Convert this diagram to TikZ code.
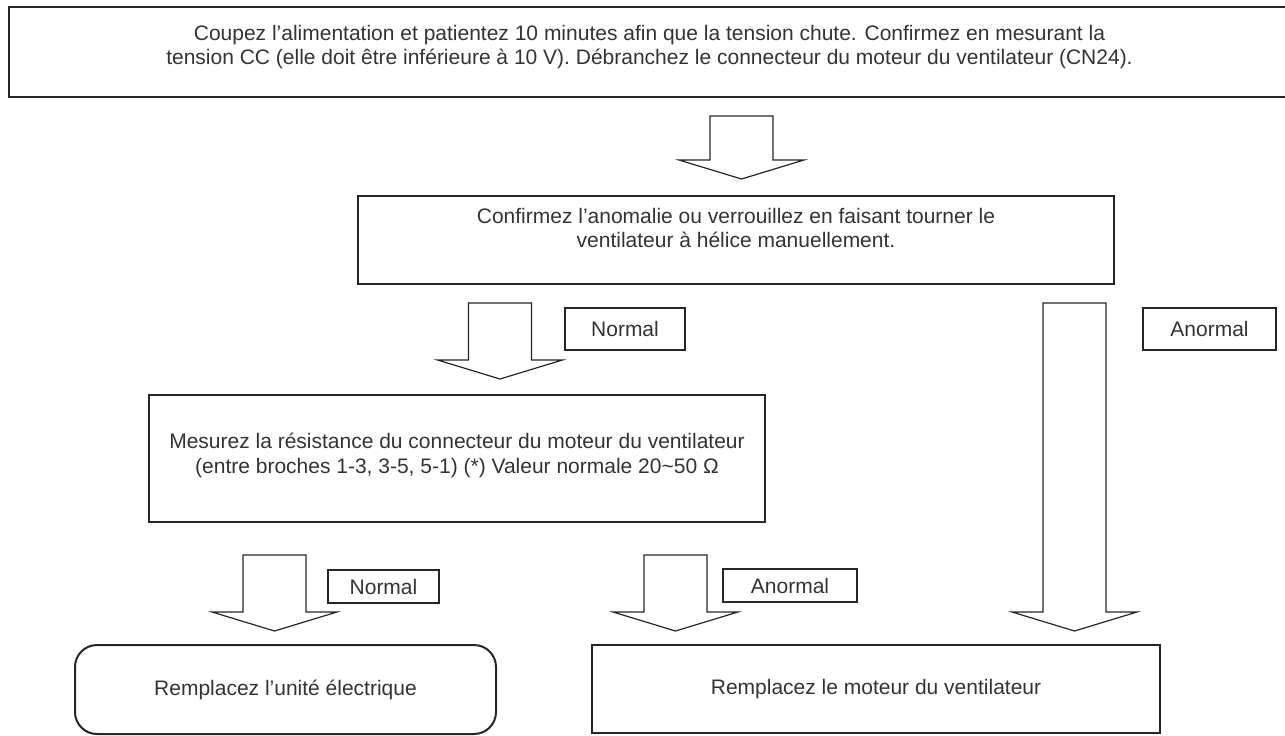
\documentclass[tikz,border=0pt]{standalone}
\usepackage{fontspec}
\setmainfont{Liberation Sans}
\usetikzlibrary{positioning}

\begin{document}
\begin{tikzpicture}[
    x=1pt, y=-1pt,
    every node/.style={font=\fontsize{21}{24.5}\selectfont, text=black!80},
    box/.style={draw=black!85, line width=2pt, align=center, inner sep=0pt, outer sep=0pt, anchor=north west},
    tag/.style={draw=black!85, line width=1.2pt, inner sep=0pt, outer sep=0pt, anchor=north west},
    pics/downarrow/.style={code={
        \draw[black!85, line width=1.2pt, line join=miter]
            (-31.5,0) -- (31.5,0) -- (31.5,#1-19) -- (62.5,#1-19) -- (0,#1)
            -- (-62.5,#1-19) -- (-31.5,#1-19) -- cycle;
    }}
]
\path[use as bounding box, clip] (0,0) rectangle (1285,736);

% steps
\node[box, minimum width=1281pt, minimum height=90pt] (cut) at (9,7)
    {Coupez l’alimentation et patientez 10 minutes afin que la tension chute. Confirmez en mesurant la\\
     tension CC (elle doit être inférieure à 10 V). Débranchez le connecteur du moteur du ventilateur (CN24).\\[-10pt]\mbox{}};
\node[box, minimum width=756pt, minimum height=88pt] (turn) at (358,196)
    {Confirmez l’anomalie ou verrouillez en faisant tourner le\\
     ventilateur à hélice manuellement.\\[0pt]\mbox{}};
\node[box, minimum width=616pt, minimum height=127pt] (measure) at (149,395)
    {Mesurez la résistance du connecteur du moteur du ventilateur\\
     (entre broches 1-3, 3-5, 5-1) (*) Valeur normale 20\textasciitilde50 Ω\\[-14pt]\mbox{}};
\node[box, rounded corners=22pt, minimum width=421pt, minimum height=89pt] (unit) at (75,645)
    {Remplacez l’unité électrique};
\node[box, minimum width=568pt, minimum height=88pt] (motor) at (592,645)
    {Remplacez le moteur du ventilateur};

% labels
\node[tag, minimum width=120pt, minimum height=42pt] (normA) at (565,308) {Normal};
\node[tag, minimum width=133pt, minimum height=42pt] (anomA) at (1143,308) {Anormal};
\node[tag, minimum width=111pt, minimum height=33pt] (normB) at (328,570) {Normal};
\node[tag, minimum width=134pt, minimum height=33pt] (anomB) at (723,569) {Anormal};

% arrows
\pic at (741.5,116) {downarrow=63};
\pic at (500,303) {downarrow=76};
\pic at (1074.5,303) {downarrow=328};
\pic at (274.5,555) {downarrow=76};
\pic at (675.5,555) {downarrow=76};
\end{tikzpicture}
\end{document}
